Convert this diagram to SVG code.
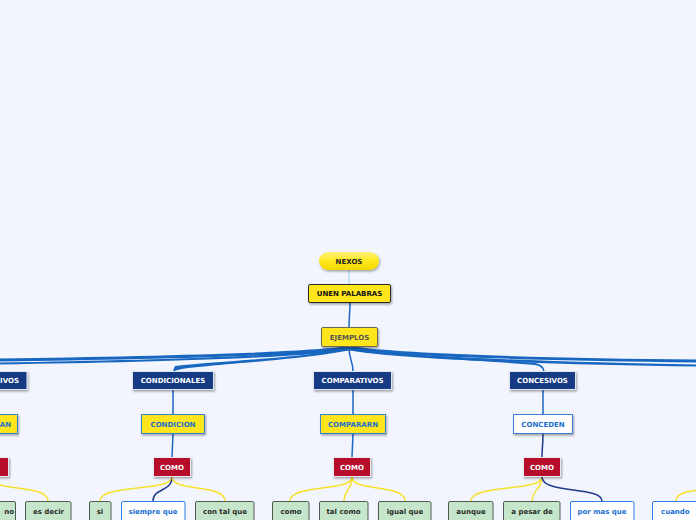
<svg xmlns="http://www.w3.org/2000/svg" width="696" height="520" viewBox="0 0 696 520">
<defs>
<linearGradient id="pill" x1="0" y1="0" x2="0" y2="1"><stop offset="0" stop-color="#fff27a"/><stop offset="0.5" stop-color="#ffe81c"/><stop offset="1" stop-color="#f2d800"/></linearGradient>
<filter id="sh" x="-20%" y="-20%" width="140%" height="160%"><feDropShadow dx="1" dy="1.5" stdDeviation="0.8" flood-color="#000" flood-opacity="0.35"/></filter>
</defs>
<style>
text{font-family:"DejaVu Sans","Verdana",sans-serif;font-weight:bold;font-size:7px;text-anchor:middle}
.l1 rect{fill:#163a84;stroke:#dfe6f2;stroke-width:1}
.l1 text{fill:#fff}
.l2 rect{fill:#ffe61a;stroke:#3b7fd6;stroke-width:1}
.l2 text{fill:#1a6fcc}
.l2w rect{fill:#fff;stroke:#3b7fd6;stroke-width:1}
.l2w text{fill:#1a6fcc}
.red rect{fill:#b70b2b;stroke:#e8e8ee;stroke-width:1}
.red text{fill:#fff}
.g rect{fill:#c6e6cb;stroke:#505a52;stroke-width:1}
.g text{fill:#2a2a2a}
.w rect{fill:#fff;stroke:#2f7de0;stroke-width:1}
.w text{fill:#1a6fd0}
.rib{fill:#1766c0}
.cb{fill:none;stroke:#1a66c2;stroke-width:1.5}
.cy{fill:none;stroke:#f7e12c;stroke-width:1.5}
.cd{fill:none;stroke:#1e3a8a;stroke-width:1.5}
</style>
<rect width="696" height="520" fill="#f2f5fe"/>
<g id="connectors">
<line x1="349" y1="270" x2="349" y2="284" stroke="#a8d2f2" stroke-width="1.2"/>
<path class="cb" d="M350,303 C350,312 349,318 349,327"/>
<path class="rib" d="M348,346 C300,353 150,356 0,358.5 L0,361.5 C150,359.5 300,356 350,349 Z"/>
<path class="rib" d="M348,347 C300,356 150,360 0,362.5 L0,364.5 C150,362.5 300,358 350,350 Z"/>
<path class="rib" d="M348,347 C320,357 230,360 175,366 L173,371 L175,371 C180,366 300,361 350,350 Z"/>
<path class="rib" d="M350,346 C400,354 550,358 696,359.5 L696,362.5 C550,360.5 400,357 348,349 Z"/>
<path class="rib" d="M350,347 C400,357 560,362 696,364.5 L696,366.5 C560,364.5 400,360 348,350 Z"/>
<path class="rib" d="M350,347 C380,357 480,360 535,365 C541,366 543,369 543,371 L544.5,371 C544,366 540,364 535,363 C480,358 380,356 348,350 Z"/>
<path class="cb" d="M349,348 C349,358 353,362 353,371" stroke-width="1.3"/>
<line class="cb" x1="173" y1="390" x2="173" y2="414"/>
<line class="cb" x1="173" y1="434" x2="172" y2="457"/>
<line class="cb" x1="353" y1="390" x2="353" y2="414"/>
<line class="cb" x1="353" y1="434" x2="352" y2="457"/>
<line class="cb" x1="543" y1="390" x2="543" y2="414"/>
<path class="cd" d="M543,434 C543,445 542,448 542,457"/>
<path class="cy" d="M-10,477 C-10,492 48,484 48,501"/>
<path class="cy" d="M172,477 C172,492 100,484 100,501"/>
<path class="cd" d="M172,477 C172,492 153,488 153,501"/>
<path class="cy" d="M172,477 C172,492 225,484 225,501"/>
<path class="cy" d="M352,477 C352,492 290,484 290,501"/>
<path class="cy" d="M352,477 C352,490 344,490 344,501"/>
<path class="cy" d="M352,477 C352,492 405,484 405,501"/>
<path class="cy" d="M542,477 C542,492 471,484 471,501"/>
<path class="cy" d="M542,477 C542,490 532,490 532,501"/>
<path class="cd" d="M542,477 C542,494 602,486 602,501"/>
<path class="cy" d="M676,501 C676,490 700,491 705,488"/>
</g>
<g id="nexos"><rect x="319" y="252" width="60" height="18" rx="9" fill="url(#pill)" filter="url(#sh)"/><text x="349" y="264" fill="#222">NEXOS</text></g>
<g id="unen"><rect x="308.5" y="284.5" width="82" height="18" rx="1.5" fill="#ffe61a" stroke="#2a2a2a" filter="url(#sh)"/><text x="349.5" y="296" fill="#111">UNEN PALABRAS</text></g>
<g id="ejemplos"><rect x="321.5" y="327.5" width="56" height="19" rx="1.5" fill="#ffe61a" stroke="#6e6750" filter="url(#sh)"/><text x="349.5" y="340" fill="#555">EJEMPLOS</text></g>

<g id="l1a" class="l1"><rect x="-60" y="371.5" width="87" height="18" filter="url(#sh)"/><text x="19" y="383" style="text-anchor:end">IVOS</text></g>
<g id="condicionales" class="l1"><rect x="132.5" y="371.5" width="81" height="18" filter="url(#sh)"/><text x="173" y="383">CONDICIONALES</text></g>
<g id="comparativos" class="l1"><rect x="313.5" y="371.5" width="78" height="18" filter="url(#sh)"/><text x="352.5" y="383">COMPARATIVOS</text></g>
<g id="concesivos" class="l1"><rect x="509.5" y="371.5" width="66" height="18" filter="url(#sh)"/><text x="542.5" y="383">CONCESIVOS</text></g>

<g id="l2a" class="l2"><rect x="-40" y="414.5" width="57.5" height="19" filter="url(#sh)"/><text x="11" y="427" style="text-anchor:end">AN</text></g>
<g id="condicion" class="l2"><rect x="141.5" y="414.5" width="63" height="19" filter="url(#sh)"/><text x="173" y="427">CONDICION</text></g>
<g id="compararn" class="l2"><rect x="320.5" y="414.5" width="65" height="19" filter="url(#sh)"/><text x="353" y="427">COMPARARN</text></g>
<g id="conceden" class="l2w"><rect x="513.5" y="414.5" width="59" height="19" filter="url(#sh)"/><text x="543" y="427">CONCEDEN</text></g>

<g id="como0" class="red"><rect x="-30" y="457.5" width="38.5" height="19" filter="url(#sh)"/></g>
<g id="como1" class="red"><rect x="153.5" y="457.5" width="37" height="19" filter="url(#sh)"/><text x="172" y="470">COMO</text></g>
<g id="como2" class="red"><rect x="333.5" y="457.5" width="37" height="19" filter="url(#sh)"/><text x="352" y="470">COMO</text></g>
<g id="como3" class="red"><rect x="523.5" y="457.5" width="37" height="19" filter="url(#sh)"/><text x="542" y="470">COMO</text></g>

<g id="leaf-no" class="g"><rect x="-30" y="501.5" width="45.5" height="22" rx="1.5"/><text x="14" y="514" style="text-anchor:end">no</text></g>
<g id="leaf-esdecir" class="g"><rect x="25.5" y="501.5" width="45.5" height="22" rx="1.5"/><text x="48.5" y="514">es decir</text></g>
<g id="leaf-si" class="g"><rect x="89.5" y="501.5" width="21.5" height="22" rx="1.5"/><text x="100" y="514">si</text></g>
<g id="leaf-siempre" class="w"><rect x="121.5" y="501.5" width="63.5" height="22" rx="1.5"/><text x="153" y="514">siempre que</text></g>
<g id="leaf-contal" class="g"><rect x="195.5" y="501.5" width="58.5" height="22" rx="1.5"/><text x="225" y="514">con tal que</text></g>
<g id="leaf-como" class="g"><rect x="272.5" y="501.5" width="36.5" height="22" rx="1.5"/><text x="291" y="514">como</text></g>
<g id="leaf-talcomo" class="g"><rect x="319.5" y="501.5" width="48.5" height="22" rx="1.5"/><text x="343.5" y="514">tal como</text></g>
<g id="leaf-igual" class="g"><rect x="378.5" y="501.5" width="52.5" height="22" rx="1.5"/><text x="405" y="514">igual que</text></g>
<g id="leaf-aunque" class="g"><rect x="448.5" y="501.5" width="44.5" height="22" rx="1.5"/><text x="471" y="514">aunque</text></g>
<g id="leaf-apesar" class="g"><rect x="503.5" y="501.5" width="56.5" height="22" rx="1.5"/><text x="532" y="514">a pesar de</text></g>
<g id="leaf-pormas" class="w"><rect x="570.5" y="501.5" width="63.5" height="22" rx="1.5"/><text x="602" y="514">por mas que</text></g>
<g id="leaf-cuando" class="w"><rect x="652.5" y="501.5" width="60" height="22" rx="1.5"/><text x="661" y="514" style="text-anchor:start">cuando</text></g>
</svg>
